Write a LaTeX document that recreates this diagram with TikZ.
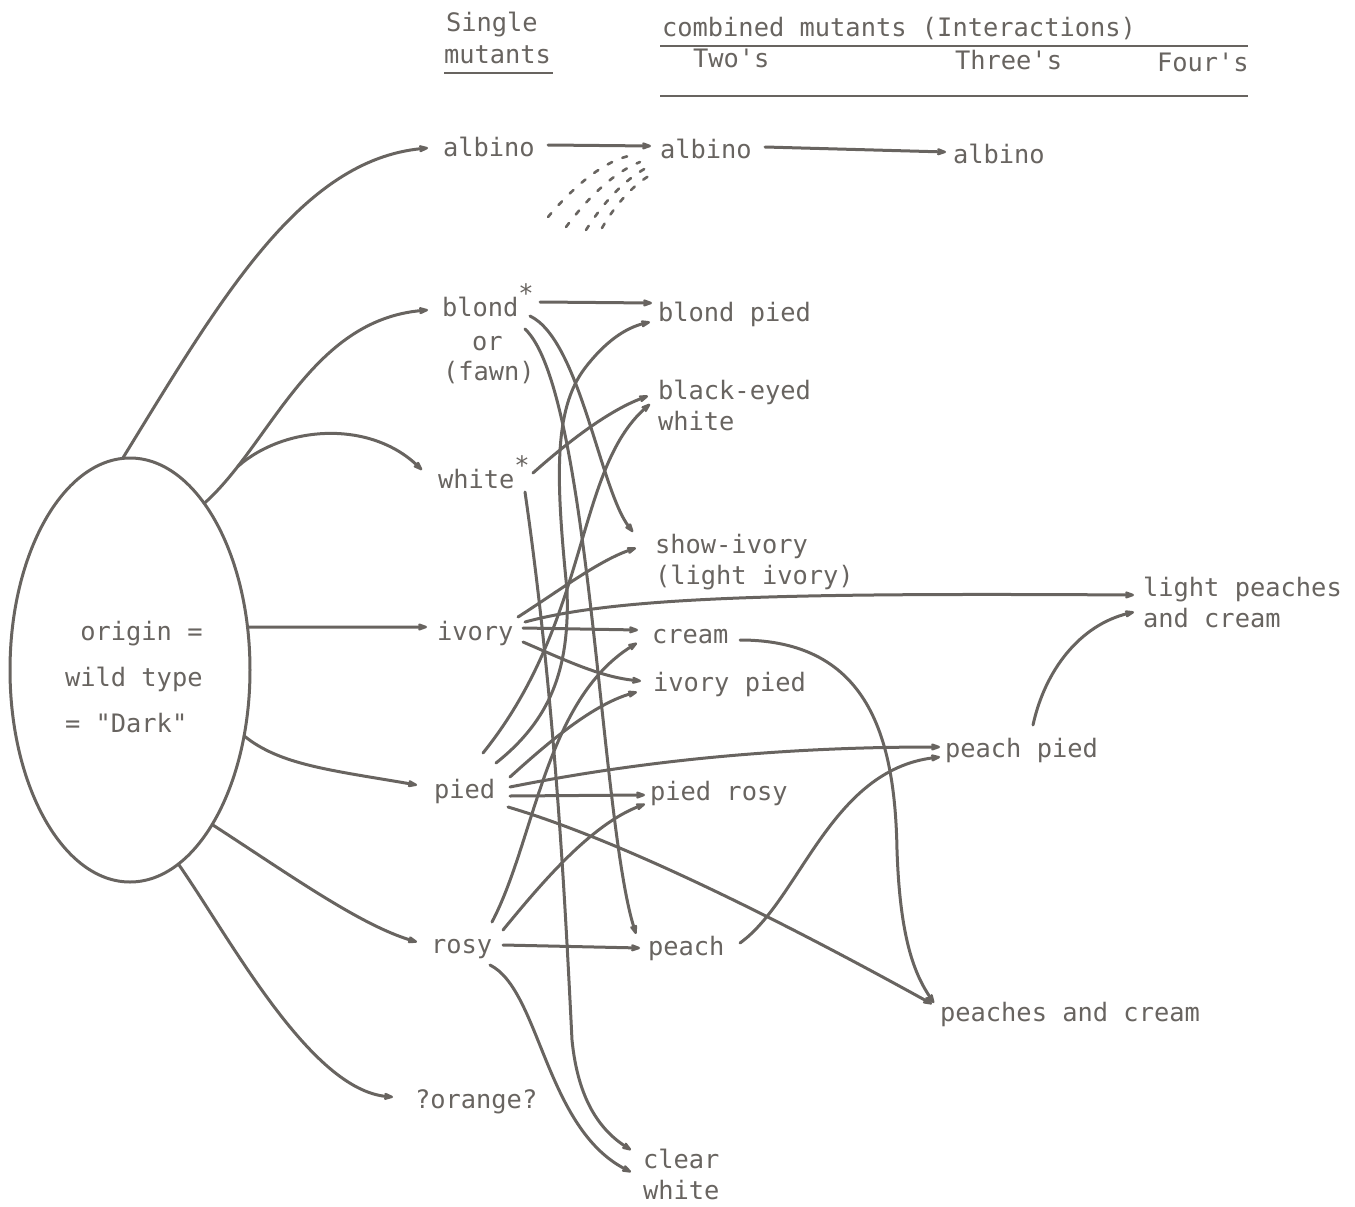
\documentclass[tikz,border=0pt]{standalone}
\usepackage{fontspec}
\setmonofont{DejaVu Sans Mono}
\usetikzlibrary{arrows.meta,shapes.geometric}
\definecolor{ink}{RGB}{104,100,96}
\begin{document}
\begin{tikzpicture}[x=1pt,y=-1pt,
  lbl/.style={anchor=base west, inner sep=0pt, outer sep=0pt, text=ink, font=\ttfamily\fontsize{25.4}{31}\selectfont, align=left},
  conn/.style={draw=ink, line width=3pt, line cap=round, -{Stealth[length=14pt,width=10pt,round]}},
  dsh/.style={draw=ink, line width=2.6pt, line cap=round, dash pattern=on 5pt off 11pt},
  rule/.style={draw=ink, line width=1.8pt}]
\useasboundingbox (0,0) rectangle (1355,1207);

% headings
\node[lbl] (single) at (446,32) {Single};
\node[lbl] (mutants) at (444,64) {mutants};
\node[lbl] (comb) at (662,37) {combined mutants (Interactions)};
\node[lbl] (two) at (693,68) {Two's};
\node[lbl] (three) at (955,70) {Three's};
\node[lbl] (four) at (1157,72) {Four's};
\draw[rule] (444,73) -- (553,73);
\draw[rule] (660,46) -- (1248,46);
\draw[rule] (660,96) -- (1248,96);

% origin
\node[draw=ink, line width=3pt, ellipse, minimum width=240pt, minimum height=424pt, inner sep=0pt, outer sep=0pt] (origin) at (130,670) {};
\node[lbl, font=\ttfamily\fontsize{25.4}{46}\selectfont] (origintxt) at (65,732) {\phantom{w}origin =\\wild type\\= "Dark"};

% single mutants
\node[lbl] (alb1) at (443,156) {albino};
\node[lbl] (blond) at (442,316) {blond\raisebox{14pt}{*}};
\node[lbl] (blondor) at (472,350) {or};
\node[lbl] (blondfawn) at (443,380) {(fawn)};
\node[lbl] (whites) at (438,488) {white\raisebox{14pt}{*}};
\node[lbl] (ivory) at (437,640) {ivory};
\node[lbl] (pied) at (434,798) {pied};
\node[lbl] (rosy) at (431,953) {rosy};
\node[lbl] (orange) at (415,1108) {?orange?};

% two's (multi-line nodes are anchored at the baseline of their last line)
\node[lbl] (alb2) at (660,158) {albino};
\node[lbl] (bpied) at (658,321) {blond pied};
\node[lbl] (bew) at (658,430) {black-eyed\\white};
\node[lbl] (showiv) at (655,584) {show-ivory\\(light ivory)};
\node[lbl] (cream) at (652,643) {cream};
\node[lbl] (ivpied) at (653,691) {ivory pied};
\node[lbl] (prosy) at (650,800) {pied rosy};
\node[lbl] (peach) at (648,955) {peach};
\node[lbl] (clearw) at (643,1199) {clear\\white};

% three's and four's
\node[lbl] (alb3) at (953,163) {albino};
\node[lbl] (ppied) at (945,757) {peach pied};
\node[lbl] (pac) at (940,1021) {peaches and cream};
\node[lbl] (lpac) at (1143,627) {light peaches\\and cream};

% from origin
\draw[conn] (origin.92) .. controls (220,300) and (300,160) .. ([shift={(-15,-8)}]alb1.base west);
\draw[conn] (origin.66) .. controls (270,445) and (310,320) .. ([shift={(-14,-6)}]blond.base west) coordinate[pos=0.18] (wbr);
\draw[conn] (wbr) .. controls (285,425) and (370,420) .. ([shift={(-16,-18)}]whites.base west);
\draw[conn] (origin.20) -- ([shift={(-10,-13)}]ivory.base west);
\draw[conn] (origin.-30) .. controls (280,765) and (330,770) .. ([shift={(-17,-13)}]pied.base west);
\draw[conn] (origin.-62) .. controls (290,875) and (360,925) .. ([shift={(-14,-11)}]rosy.base west);
\draw[conn] (origin.-76) .. controls (230,938) and (310,1090) .. ([shift={(-22,-11)}]orange.base west);

% albino chain
\draw[conn] ([shift={(105,-11)}]alb1.base west) -- ([shift={(-9,-12)}]alb2.base west);
\draw[conn] ([shift={(105,-11)}]alb2.base west) -- ([shift={(-7,-11)}]alb3.base west);
\coordinate (ds1) at (548,217);
\coordinate (ds2) at (566,227);
\coordinate (ds3) at (586,230);
\coordinate (ds4) at (602,228);
\draw[dsh] (ds1) .. controls (575,185) and (605,160) .. ([shift={(-27,-3)}]alb2.base west);
\draw[dsh] (ds2) .. controls (590,195) and (615,172) .. ([shift={(-20,4)}]alb2.base west);
\draw[dsh] (ds3) .. controls (605,200) and (625,180) .. ([shift={(-14,10)}]alb2.base west);
\draw[dsh] (ds4) .. controls (615,205) and (635,182) .. ([shift={(-4,14)}]alb2.base west);

% blond
\draw[conn] ([shift={(98,-14)}]blond.base west) -- ([shift={(-6,-18)}]bpied.base west);
\draw[conn] ([shift={(88,0)}]blond.base west) .. controls (580,340) and (600,490) .. ([shift={(-22,-52)}]showiv.base west);
\draw[conn] ([shift={(83,13)}]blond.base west) .. controls (590,390) and (600,820) .. ([shift={(-12,-21)}]peach.base west);

% white
\draw[conn] ([shift={(95,-15)}]whites.base west) .. controls (570,440) and (610,410) .. ([shift={(-10,-34)}]bew.base west);
\draw[conn] ([shift={(87,4)}]whites.base west) .. controls (555,700) and (565,900) .. (572,1040) .. controls (578,1100) and (600,1130) .. ([shift={(-12,-49)}]clearw.base west);

% ivory
\draw[conn] ([shift={(81,-23)}]ivory.base west) .. controls (560,590) and (600,560) .. ([shift={(-19,-36)}]showiv.base west);
\draw[conn] ([shift={(88,-18)}]ivory.base west) .. controls (620,596) and (800,593) .. ([shift={(-9,-32)}]lpac.base west);
\draw[conn] ([shift={(86,-12)}]ivory.base west) -- ([shift={(-14,-13)}]cream.base west);
\draw[conn] ([shift={(86,2)}]ivory.base west) .. controls (565,660) and (600,677) .. ([shift={(-12,-10)}]ivpied.base west);

% pied
\draw[conn] ([shift={(49,-45)}]pied.base west) .. controls (590,620) and (575,470) .. ([shift={(-8,-26)}]bew.base west);
\draw[conn] ([shift={(62,-35)}]pied.base west) .. controls (550,720) and (570,670) .. (567,590) .. controls (556,480) and (553,410) .. (585,368) .. controls (605,342) and (625,328) .. ([shift={(-8,1)}]bpied.base west);
\draw[conn] ([shift={(76,-21)}]pied.base west) .. controls (540,750) and (590,705) .. ([shift={(-16,1)}]ivpied.base west);
\draw[conn] ([shift={(76,-11)}]pied.base west) .. controls (620,765) and (760,747) .. ([shift={(-5,-10)}]ppied.base west);
\draw[conn] ([shift={(76,-2)}]pied.base west) -- ([shift={(-5,-5)}]prosy.base west);
\draw[conn] ([shift={(74,9)}]pied.base west) .. controls (620,840) and (780,920) .. ([shift={(-8,-17)}]pac.base west);

% rosy
\draw[conn] ([shift={(61,-31)}]rosy.base west) .. controls (535,840) and (545,700) .. ([shift={(-15,0)}]cream.base west);
\draw[conn] ([shift={(72,-23)}]rosy.base west) .. controls (540,885) and (590,825) .. ([shift={(-5,4)}]prosy.base west);
\draw[conn] ([shift={(72,-8)}]rosy.base west) -- ([shift={(-8,-7)}]peach.base west);
\draw[conn] ([shift={(59,12)}]rosy.base west) .. controls (540,990) and (545,1128) .. ([shift={(-12,-27)}]clearw.base west);

% later generations
\draw[conn] ([shift={(88,-3)}]cream.base west) .. controls (870,640) and (895,740) .. (897,850) .. controls (900,940) and (915,975) .. ([shift={(-6,-18)}]pac.base west);
\draw[conn] ([shift={(92,-12)}]peach.base west) .. controls (800,900) and (830,770) .. ([shift={(-5,0)}]ppied.base west);
\draw[conn] ([shift={(88,-32)}]ppied.base west) .. controls (1045,670) and (1080,625) .. ([shift={(-9,-15)}]lpac.base west);
\end{tikzpicture}
\end{document}
